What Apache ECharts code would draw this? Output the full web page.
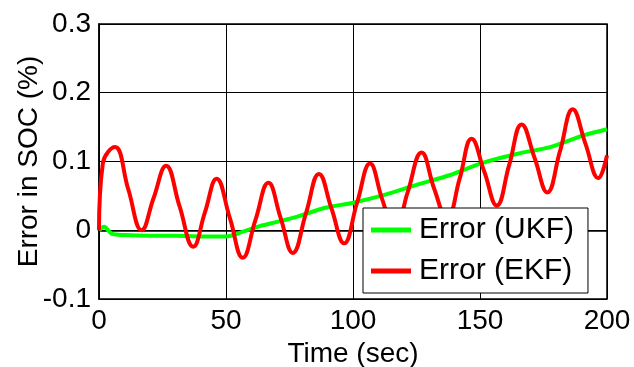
<!DOCTYPE html>
<html>
<head>
<meta charset="utf-8">
<script src="https://cdn.jsdelivr.net/npm/echarts@6/dist/echarts.min.js"></script>
<style>
  html, body { margin: 0; padding: 0; background: #fff; }
  #chart { width: 634px; height: 367px; }
</style>
</head>
<body>
<div id="chart"></div>
<script>
// SOC estimation error over time for the two filters
const ukfTime = [0, 2, 5, 10, 20, 30, 40, 50, 56.7, 63.3, 71, 79, 89.5, 100, 112, 125, 138, 151, 164.4, 177.6, 190.7, 200];
const ukfError = [0, 0.005, -0.005, -0.007, -0.008, -0.008, -0.009, -0.009, -0.002, 0.006, 0.013, 0.021, 0.033, 0.040, 0.051, 0.066, 0.080, 0.098, 0.111, 0.121, 0.138, 0.147];

const ekfTime = [0, 1.5, 6.3, 11.5, 16.8, 21.5, 26.4, 31.7, 37.1, 41.7, 46.3, 51.5, 56.6, 61.6, 66.7, 71.5, 76.3, 81.5, 86.6, 91.5, 96.5, 101.6, 106.7, 111.5, 116.5, 121.5, 127, 132, 137, 142, 146.7, 151.7, 156.6, 161.5, 166.4, 171.5, 176.5, 181.5, 186.5, 191.5, 196.6, 200];
const ekfError = [0, 0.097, 0.121, 0.060, 0.000, 0.047, 0.094, 0.035, -0.024, 0.026, 0.075, 0.018, -0.040, 0.015, 0.069, 0.018, -0.033, 0.025, 0.082, 0.032, -0.019, 0.040, 0.097, 0.045, -0.002, 0.055, 0.113, 0.060, 0.016, 0.075, 0.133, 0.085, 0.036, 0.095, 0.154, 0.105, 0.055, 0.115, 0.176, 0.126, 0.076, 0.109];

const xTicks = [0, 50, 100, 150, 200];
const yTicks = [-0.1, 0, 0.1, 0.2, 0.3];
const seriesNames = ['Error (UKF)', 'Error (EKF)'];

const pairs = (xs, ys) => xs.map((x, i) => [x, ys[i]]);
const FONT = 'Liberation Sans, Arial, sans-serif';

const chart = echarts.init(document.getElementById('chart'), null, { renderer: 'canvas' });
chart.setOption({
  animation: false,
  backgroundColor: '#fff',
  grid: {
    left: 99, right: 27, top: 24, bottom: 68,
    outerBoundsMode: 'none', containLabel: false,
    show: true, borderColor: '#000', borderWidth: 1.5, backgroundColor: 'transparent'
  },
  xAxis: {
    type: 'value',
    min: xTicks[0], max: xTicks[xTicks.length - 1], interval: 50,
    name: 'Time (sec)', nameLocation: 'middle', nameGap: 36,
    nameTextStyle: { color: '#000', fontSize: 28, fontFamily: FONT },
    axisLine: { show: true, lineStyle: { color: '#000', width: 1.5 } },
    axisTick: { show: false },
    axisLabel: { color: '#000', fontSize: 28, fontFamily: FONT, margin: 8 },
    splitLine: { show: true, lineStyle: { color: '#000', width: 1 } }
  },
  yAxis: {
    type: 'value',
    min: yTicks[0], max: yTicks[yTicks.length - 1], interval: 0.1,
    name: 'Error in SOC (%)', nameLocation: 'middle', nameGap: 56,
    nameMoveOverlap: false,
    nameTextStyle: { color: '#000', fontSize: 28, fontFamily: FONT },
    axisLine: { show: true, lineStyle: { color: '#000', width: 1.5 } },
    axisTick: { show: false },
    axisLabel: {
      color: '#000', fontSize: 28, fontFamily: FONT, margin: 8,
      formatter: v => {
        const r = Math.round(v * 10) / 10;
        return r === 0 ? '0' : r.toFixed(1);
      }
    },
    splitLine: { show: true, lineStyle: { color: '#000', width: 1 } }
  },
  legend: {
    data: seriesNames,
    orient: 'vertical',
    left: 363, top: 208,
    padding: [7, 14, 7, 8],
    itemGap: 11,
    itemWidth: 40, itemHeight: 5,
    icon: 'rect',
    backgroundColor: '#fff',
    borderColor: '#000', borderWidth: 1,
    textStyle: { color: '#000', fontSize: 30, fontFamily: FONT, padding: [0, 0, 0, 3] }
  },
  series: [
    {
      name: seriesNames[0], type: 'line', data: pairs(ukfTime, ukfError),
      showSymbol: false, smooth: 0.3,
      itemStyle: { color: '#00ff00' },
      lineStyle: { color: '#00ff00', width: 4 }
    },
    {
      name: seriesNames[1], type: 'line', data: pairs(ekfTime, ekfError),
      showSymbol: false, smooth: 0.45,
      itemStyle: { color: '#ff0000' },
      lineStyle: { color: '#ff0000', width: 4 }
    }
  ]
});
</script>
</body>
</html>
